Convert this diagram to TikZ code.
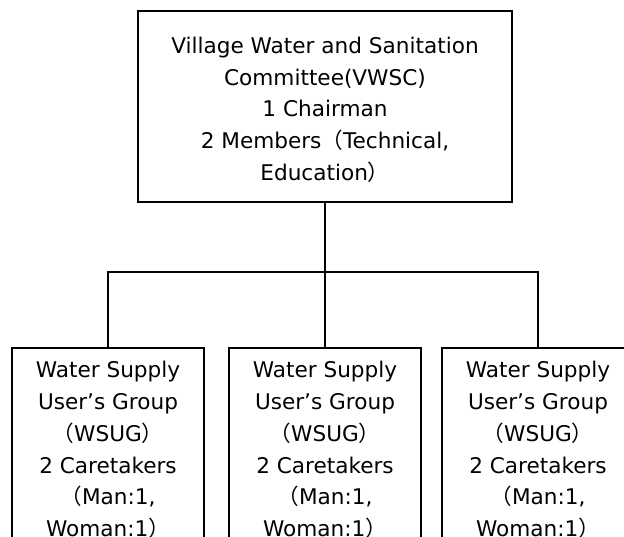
\documentclass[tikz,border=0pt]{standalone}
\usepackage{fontspec}
\setmainfont{DejaVu Sans}
\newfontfamily\cjkfont{Noto Sans CJK JP}
\newcommand{\lpar}{{\cjkfont （}}
\newcommand{\rpar}{{\cjkfont ）}}
\begin{document}
\begin{tikzpicture}[x=1pt,y=1pt,
  box/.style={draw, line width=1.6pt, align=center, inner sep=0pt,
    font=\fontsize{21.6}{31.7}\selectfont},
  conn/.style={line width=1.6pt}]
\useasboundingbox (0,0) rectangle (624,-537);
\clip (0,0) rectangle (624,-537);
\node[box, minimum width=374pt, minimum height=191pt] (vwsc) at (325,-106.5)
  {\rule{0pt}{22.5pt}Village Water and Sanitation\\Committee(VWSC)\\1 Chairman\\2 Members\lpar Technical,\\Education\rpar};
\node[box, minimum width=192pt, minimum height=204pt] (g1) at (108,-450)
  {Water Supply\\User’s Group\\\lpar WSUG\rpar\\2 Caretakers\\\lpar Man:1,\\Woman:1\rpar};
\node[box, minimum width=192pt, minimum height=204pt] (g2) at (325,-450)
  {Water Supply\\User’s Group\\\lpar WSUG\rpar\\2 Caretakers\\\lpar Man:1,\\Woman:1\rpar};
\node[box, minimum width=192pt, minimum height=204pt] (g3) at (538,-450)
  {Water Supply\\User’s Group\\\lpar WSUG\rpar\\2 Caretakers\\\lpar Man:1,\\Woman:1\rpar};
\coordinate (j) at (325,-272);
\draw[conn] (vwsc.south) -- (j);
\draw[conn] (g1.north) |- (j) -| (g3.north);
\draw[conn] (g2.north) -- (j);
\end{tikzpicture}
\end{document}
